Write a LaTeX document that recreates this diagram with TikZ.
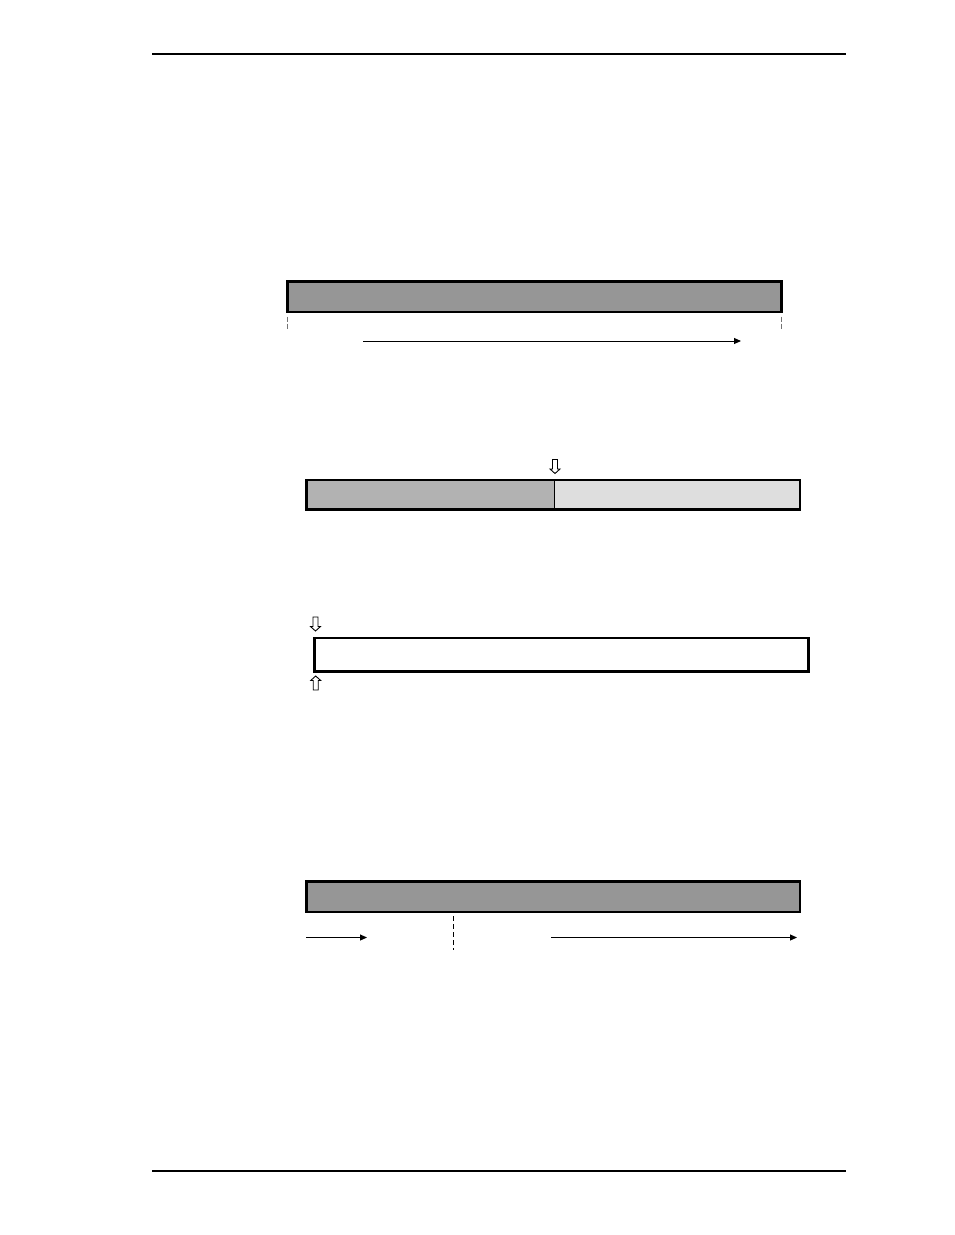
\documentclass[tikz,border=0pt]{standalone}
\usetikzlibrary{arrows.meta}

\definecolor{bargray}{gray}{0.59}
\definecolor{midgray}{gray}{0.70}
\definecolor{palegray}{gray}{0.87}
\definecolor{tickgray}{gray}{0.45}

\tikzset{
    bar/.style={draw, line width=2.7pt, inner sep=0pt, outer sep=0pt, anchor=north west},
    flow/.style={line width=1pt, -{Triangle[length=7pt,width=6pt]}},
    cut/.style={line width=1pt, dash pattern=on 5pt off 3pt},
    hollow/.style={draw, fill=white, line width=0.9pt}
}

\begin{document}
\begin{tikzpicture}[x=1pt, y=-1pt]
        \useasboundingbox (0,0) rectangle (954,1235);
        \draw [line width=1.3pt] (152,54) -- (846,54);
        \draw [line width=2pt] (152,1170.5) -- (846,1170.5);

        % first bar
        \node [bar, fill=bargray, minimum width=493.8pt, minimum height=30.5pt] (bar1) at (287.5,281.5) {};
        \coordinate (tickla) at (287.5,316.5);
        \coordinate (ticklb) at (287.5,330);
        \coordinate (tickra) at (781.3,316.5);
        \coordinate (tickrb) at (781.3,330);
        \draw [cut, color=tickgray, dash pattern=on 5pt off 2pt] (tickla) -- (ticklb);
        \draw [cut, color=tickgray, dash pattern=on 5pt off 2pt] (tickra) -- (tickrb);
        \coordinate (runa) at (363,341);
        \coordinate (runb) at (741,341);
        \draw [flow] (runa) -- (runb);

        % second bar
        \fill [color=midgray] (306.6,480) rectangle (554.3,509.5);
        \fill [color=palegray] (554.3,480) rectangle (800,509.5);
        \coordinate (splita) at (554.3,480);
        \coordinate (splitb) at (554.3,509.5);
        \draw [line width=1pt] (splita) -- (splitb);
        \node [bar, minimum width=493.4pt, minimum height=29.5pt] (bar2) at (306.6,480) {};

        % third bar
        \node [bar, fill=white, minimum width=494.2pt, minimum height=33.5pt] (bar3) at (314.3,638) {};

        % hollow arrows
        \foreach \x/\y/\d in {555/459.5/1, 315.5/617/1, 315.7/690/-1}
            {\draw [hollow] (\x-2.5,\y) -- (\x+2.5,\y) -- (\x+2.5,\y+\d*9.5) -- (\x+5,\y+\d*9.5)
                -- (\x,\y+\d*14) -- (\x-5,\y+\d*9.5) -- (\x-2.5,\y+\d*9.5) -- cycle;}

        % fourth bar
        \node [bar, fill=bargray, minimum width=493.7pt, minimum height=30.7pt] (bar4) at (306.3,881.3) {};
        \coordinate (cuta) at (453.5,916);
        \coordinate (cutb) at (453.5,950);
        \draw [cut] (cuta) -- (cutb);
        \coordinate (lefta) at (306,937.5);
        \coordinate (leftb) at (367,937.5);
        \coordinate (righta) at (551,937.5);
        \coordinate (rightb) at (797,937.5);
        \draw [flow] (lefta) -- (leftb);
        \draw [flow] (righta) -- (rightb);
    \end{tikzpicture}
\end{document}
